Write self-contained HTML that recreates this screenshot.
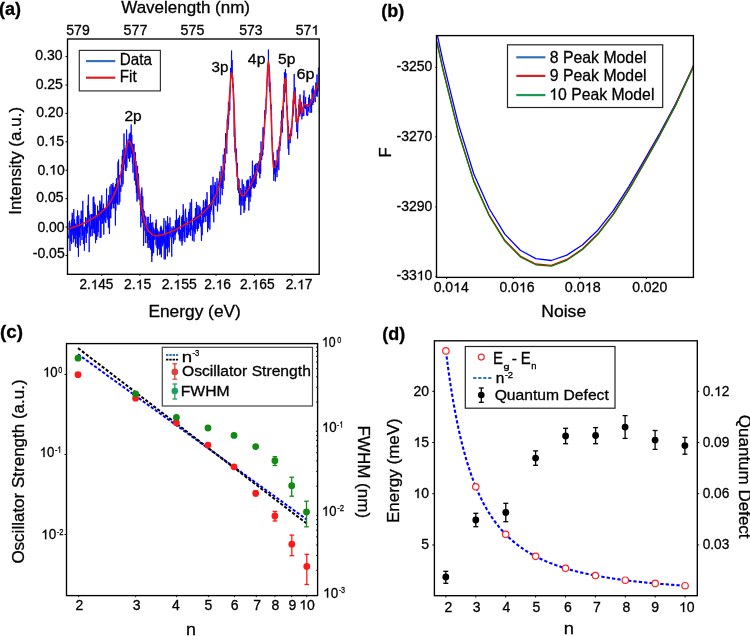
<!DOCTYPE html>
<html><head><meta charset="utf-8"><style>
html,body{margin:0;padding:0;background:#fff;width:750px;height:636px;overflow:hidden}
svg{display:block;will-change:transform}
text{font-family:"Liberation Sans",sans-serif;stroke:#000;stroke-width:0.3px}
</style></head><body>
<svg width="750" height="636" viewBox="0 0 750 636">
<rect width="750" height="636" fill="#fff"/>
<text x="-0.9" y="14.9" font-size="18" font-weight="bold" fill="#000">(a)</text>
<text x="121.23" y="12.6" font-size="17" fill="#000">Wavelength (nm)</text>
<text x="66.34" y="34.8" font-size="14" fill="#000">579</text>
<text x="123.64" y="34.8" font-size="14" fill="#000" textLength="23.86" lengthAdjust="spacingAndGlyphs">577</text>
<text x="180.64" y="34.8" font-size="14" fill="#000" textLength="23.75" lengthAdjust="spacingAndGlyphs">575</text>
<text x="239.14" y="34.8" font-size="14" fill="#000">573</text>
<text x="295.84" y="34.8" font-size="14" fill="#000">57 </text>
<path d="M763 0L583 0L583 1100C540 1060 483 1020 413 980C343 940 280 912 223 892L223 1058C324 1103 412 1159 488 1224C564 1289 617 1350 649 1409L763 1409Z" transform="translate(311.41 34.8) scale(0.006836 -0.006836)" fill="#000" stroke="#000" stroke-width="43.886"/>
<text x="62.55" y="59.6" font-size="14" text-anchor="end" fill="#000">0.30</text>
<line x1="65.5" y1="56.6" x2="67.5" y2="56.6" stroke="#000" stroke-width="1"/>
<text x="62.89" y="88.6" font-size="14" text-anchor="end" fill="#000">0.25</text>
<line x1="65.5" y1="85.01" x2="67.5" y2="85.01" stroke="#000" stroke-width="1"/>
<text x="63.45" y="117.2" font-size="14" text-anchor="end" fill="#000">0.20</text>
<line x1="65.5" y1="113.42" x2="67.5" y2="113.42" stroke="#000" stroke-width="1"/>
<text x="64.09" y="145.5" font-size="14" text-anchor="end" fill="#000">0. 5</text>
<path d="M763 0L583 0L583 1100C540 1060 483 1020 413 980C343 940 280 912 223 892L223 1058C324 1103 412 1159 488 1224C564 1289 617 1350 649 1409L763 1409Z" transform="translate(48.52 145.5) scale(0.006836 -0.006836)" fill="#000" stroke="#000" stroke-width="43.886"/>
<line x1="65.5" y1="141.83" x2="67.5" y2="141.83" stroke="#000" stroke-width="1"/>
<text x="64.75" y="174.6" font-size="14" text-anchor="end" fill="#000">0. 0</text>
<path d="M763 0L583 0L583 1100C540 1060 483 1020 413 980C343 940 280 912 223 892L223 1058C324 1103 412 1159 488 1224C564 1289 617 1350 649 1409L763 1409Z" transform="translate(49.17 174.6) scale(0.006836 -0.006836)" fill="#000" stroke="#000" stroke-width="43.886"/>
<line x1="65.5" y1="170.24" x2="67.5" y2="170.24" stroke="#000" stroke-width="1"/>
<text x="63.49" y="202.3" font-size="14" text-anchor="end" fill="#000">0.05</text>
<line x1="65.5" y1="198.65" x2="67.5" y2="198.65" stroke="#000" stroke-width="1"/>
<text x="64.65" y="231.5" font-size="14" text-anchor="end" fill="#000">0.00</text>
<line x1="65.5" y1="227.06" x2="67.5" y2="227.06" stroke="#000" stroke-width="1"/>
<text x="64.69" y="257.9" font-size="14" text-anchor="end" fill="#000">-0.05</text>
<line x1="65.5" y1="255.47" x2="67.5" y2="255.47" stroke="#000" stroke-width="1"/>
<text transform="translate(21 213.3) rotate(-90)" x="-1.37" y="0" font-size="17" fill="#000">Intensity (a.u.)</text>
<text x="79.4" y="289.3" font-size="14" fill="#000" textLength="33.99" lengthAdjust="spacingAndGlyphs">2. 45</text>
<path d="M763 0L583 0L583 1100C540 1060 483 1020 413 980C343 940 280 912 223 892L223 1058C324 1103 412 1159 488 1224C564 1289 617 1350 649 1409L763 1409Z" transform="translate(90.72 289.3) scale(0.006633 -0.006836)" fill="#000" stroke="#000" stroke-width="43.886"/>
<text x="124" y="289.3" font-size="14" fill="#000">2. 5</text>
<path d="M763 0L583 0L583 1100C540 1060 483 1020 413 980C343 940 280 912 223 892L223 1058C324 1103 412 1159 488 1224C564 1289 617 1350 649 1409L763 1409Z" transform="translate(135.67 289.3) scale(0.006836 -0.006836)" fill="#000" stroke="#000" stroke-width="43.886"/>
<text x="161.7" y="289.3" font-size="14" fill="#000">2. 55</text>
<path d="M763 0L583 0L583 1100C540 1060 483 1020 413 980C343 940 280 912 223 892L223 1058C324 1103 412 1159 488 1224C564 1289 617 1350 649 1409L763 1409Z" transform="translate(173.37 289.3) scale(0.006836 -0.006836)" fill="#000" stroke="#000" stroke-width="43.886"/>
<text x="204.2" y="289.3" font-size="14" fill="#000" textLength="26.82" lengthAdjust="spacingAndGlyphs">2. 6</text>
<path d="M763 0L583 0L583 1100C540 1060 483 1020 413 980C343 940 280 912 223 892L223 1058C324 1103 412 1159 488 1224C564 1289 617 1350 649 1409L763 1409Z" transform="translate(215.69 289.3) scale(0.006728 -0.006836)" fill="#000" stroke="#000" stroke-width="43.886"/>
<text x="240.1" y="289.3" font-size="14" fill="#000" textLength="34.49" lengthAdjust="spacingAndGlyphs">2. 65</text>
<path d="M763 0L583 0L583 1100C540 1060 483 1020 413 980C343 940 280 912 223 892L223 1058C324 1103 412 1159 488 1224C564 1289 617 1350 649 1409L763 1409Z" transform="translate(251.59 289.3) scale(0.006730 -0.006836)" fill="#000" stroke="#000" stroke-width="43.886"/>
<text x="285.7" y="289.3" font-size="14" fill="#000" textLength="26.81" lengthAdjust="spacingAndGlyphs">2. 7</text>
<path d="M763 0L583 0L583 1100C540 1060 483 1020 413 980C343 940 280 912 223 892L223 1058C324 1103 412 1159 488 1224C564 1289 617 1350 649 1409L763 1409Z" transform="translate(297.18 289.3) scale(0.006726 -0.006836)" fill="#000" stroke="#000" stroke-width="43.886"/>
<text x="148.41" y="316.9" font-size="17" fill="#000" textLength="92.45" lengthAdjust="spacingAndGlyphs">Energy (eV)</text>
<line x1="101.8" y1="274.3" x2="101.8" y2="276" stroke="#000" stroke-width="0.9"/>
<line x1="139.9" y1="274.3" x2="139.9" y2="276" stroke="#000" stroke-width="0.9"/>
<line x1="178" y1="274.3" x2="178" y2="276" stroke="#000" stroke-width="0.9"/>
<line x1="216" y1="274.3" x2="216" y2="276" stroke="#000" stroke-width="0.9"/>
<line x1="254.4" y1="274.3" x2="254.4" y2="276" stroke="#000" stroke-width="0.9"/>
<line x1="292.2" y1="274.3" x2="292.2" y2="276" stroke="#000" stroke-width="0.9"/>
<svg x="68" y="39" width="251" height="235" viewBox="68 39 251 235" overflow="hidden">
<polyline points="68.6,234.55 68.8,238.41 69,230.18 69.2,222.8 69.4,228.36 69.6,220.84 69.8,234.61 70,250.96 70.2,227.6 70.4,226.26 70.6,241.36 70.8,239.32 71,235.46 71.2,222.82 71.4,237.22 71.6,243.88 71.8,219.64 72,231.61 72.2,212.76 72.4,220.75 72.6,214.83 72.8,235.21 73,222.7 73.2,242.44 73.4,239.99 73.6,234.76 73.8,209.11 74,231.71 74.2,238.48 74.4,239.09 74.6,219.05 74.8,231.2 75,224.19 75.2,225.41 75.4,246.72 75.6,223.75 75.8,231.89 76,243.64 76.2,225.72 76.4,232.23 76.6,235.18 76.8,233.5 77,216.28 77.2,232.04 77.4,248 77.6,210.3 77.8,240.37 78,232.43 78.2,222.05 78.4,256.88 78.6,239.83 78.8,215.36 79,231.59 79.2,237.27 79.4,226.72 79.6,235.59 79.8,226.47 80,235.25 80.2,245.52 80.4,218.81 80.6,227.71 80.8,218.95 81,225.33 81.2,210.66 81.4,218.24 81.6,224.25 81.8,236.47 82,240.09 82.2,210.68 82.4,216.14 82.6,235.6 82.8,200.9 83,220.57 83.2,226.86 83.4,244.13 83.6,239.89 83.8,228.22 84,227.27 84.2,228.72 84.4,250.78 84.6,226.61 84.8,229.58 85,237.49 85.2,230.53 85.4,228.76 85.6,216.98 85.8,231.09 86,225.29 86.2,243 86.4,234.71 86.6,224.17 86.8,232 87,217.95 87.2,233.47 87.4,220 87.6,227.98 87.8,205.35 88,226.47 88.2,200.01 88.4,194.64 88.6,217.88 88.8,211.19 89,224.32 89.2,252.16 89.4,215.26 89.6,218.26 89.8,227.48 90,233.31 90.2,225.79 90.4,226.42 90.6,236.65 90.8,234.54 91,213.97 91.2,226.03 91.4,228.92 91.6,214.51 91.8,229.06 92,214.47 92.2,236.05 92.4,225.4 92.6,222.64 92.8,214.14 93,219.77 93.2,197.09 93.4,207.85 93.6,228.62 93.8,196.55 94,233.08 94.2,202.37 94.4,233.08 94.6,212.69 94.8,233.5 95,226.25 95.2,204.46 95.4,237.25 95.6,243.18 95.8,224.9 96,223.47 96.2,222.9 96.4,215.1 96.6,240.05 96.8,221.86 97,226.71 97.2,215.06 97.4,215.88 97.6,205.6 97.8,236.6 98,218.54 98.2,232.08 98.4,221.42 98.6,210.67 98.8,215.91 99,212.63 99.2,220.35 99.4,214.87 99.6,214.61 99.8,200.63 100,207.79 100.2,238.03 100.4,209.05 100.6,204.62 100.8,223.46 101,237.68 101.2,202.39 101.4,217.77 101.6,211.81 101.8,195.24 102,224.01 102.2,215.44 102.4,217.54 102.6,208.5 102.8,223.2 103,210.38 103.2,215.34 103.4,204.24 103.6,203.67 103.8,234.61 104,210.34 104.2,219.49 104.4,215.5 104.6,208.98 104.8,208.45 105,221.89 105.2,209.37 105.4,207.89 105.6,208.86 105.8,222.97 106,214.94 106.2,211.41 106.4,198.05 106.6,188.45 106.8,217.54 107,217.52 107.2,204.19 107.4,214.15 107.6,216.57 107.8,218.03 108,219.95 108.2,200.85 108.4,227.65 108.6,195.17 108.8,219.52 109,216.04 109.2,221.54 109.4,234.04 109.6,227.26 109.8,192.97 110,186.44 110.2,217.51 110.4,195.04 110.6,208.1 110.8,218.18 111,187.92 111.2,184.12 111.4,209.11 111.6,203.57 111.8,201.93 112,204.18 112.2,193.67 112.4,185.02 112.6,202.28 112.8,192.12 113,182.9 113.2,208.36 113.4,201.04 113.6,207.45 113.8,188.09 114,191.22 114.2,186.81 114.4,189.47 114.6,204.08 114.8,193.36 115,208.35 115.2,206.3 115.4,225.5 115.6,183.88 115.8,210.75 116,197.4 116.2,197.56 116.4,178.23 116.6,189.09 116.8,203 117,192.22 117.2,191.75 117.4,187.85 117.6,204.56 117.8,188.91 118,161.64 118.2,179.68 118.4,163.43 118.6,159.54 118.8,182.88 119,204.76 119.2,189.22 119.4,174.93 119.6,177.59 119.8,202.12 120,190.75 120.2,189.68 120.4,186.64 120.6,185.4 120.8,191.78 121,187.22 121.2,181.05 121.4,165.2 121.6,182.27 121.8,164.11 122,186.74 122.2,156.06 122.4,167.94 122.6,167.38 122.8,149.75 123,184.31 123.2,181.12 123.4,155.38 123.6,170.02 123.8,166.85 124,133.47 124.2,164.41 124.4,160.34 124.6,161.02 124.8,148.04 125,154.79 125.2,154.57 125.4,170.84 125.6,159.8 125.8,154.33 126,171.1 126.2,145.09 126.4,148.29 126.6,129.57 126.8,167.62 127,159.36 127.2,158.39 127.4,154.88 127.6,145.68 127.8,145.51 128,140.14 128.2,139.28 128.4,142.43 128.6,158.61 128.8,146.98 129,140.22 129.2,134 129.4,133.55 129.6,161.72 129.8,147.84 130,143.86 130.2,140.51 130.4,132.33 130.6,146.29 130.8,157.49 131,144.21 131.2,124.5 131.4,148.22 131.6,154.03 131.8,134.81 132,149.66 132.2,143.56 132.4,163.53 132.6,143.89 132.8,160.83 133,172.6 133.2,149.01 133.4,144.63 133.6,155.22 133.8,154.2 134,143.84 134.2,162.67 134.4,180.63 134.6,155.2 134.8,159.74 135,152.53 135.2,169.03 135.4,152.39 135.6,155.9 135.8,185.24 136,161.13 136.2,186.99 136.4,193.05 136.6,179.62 136.8,184.52 137,201.56 137.2,176.53 137.4,172.76 137.6,165.76 137.8,182 138,199.47 138.2,195.7 138.4,173.68 138.6,176.16 138.8,183.25 139,193.96 139.2,189.36 139.4,198.24 139.6,200.08 139.8,193.79 140,199.08 140.2,205.26 140.4,202.76 140.6,210.88 140.8,227.37 141,214.48 141.2,209.06 141.4,190.73 141.6,215.59 141.8,187.58 142,194.98 142.2,223.06 142.4,221.1 142.6,212.23 142.8,196.34 143,212.55 143.2,209.14 143.4,226.8 143.6,245.92 143.8,224.33 144,214.86 144.2,210.84 144.4,225.32 144.6,225.38 144.8,215.26 145,230.85 145.2,216.34 145.4,242.38 145.6,241.37 145.8,242.93 146,224.87 146.2,236.03 146.4,228.92 146.6,227.69 146.8,228.51 147,216.91 147.2,217.12 147.4,243.03 147.6,232.62 147.8,239.01 148,247.89 148.2,216.76 148.4,227.51 148.6,239.11 148.8,240.13 149,230.7 149.2,247.92 149.4,238.45 149.6,223.12 149.8,225.96 150,245.74 150.2,241.21 150.4,214.16 150.6,249.47 150.8,241.2 151,249.59 151.2,231.01 151.4,231.7 151.6,222.73 151.8,262.01 152,236.89 152.2,255.84 152.4,232.38 152.6,242.45 152.8,222.32 153,238.09 153.2,252.07 153.4,227.48 153.6,253.14 153.8,244.6 154,228.72 154.2,235.17 154.4,236.59 154.6,239.73 154.8,235.12 155,230.18 155.2,236.6 155.4,227.45 155.6,223.1 155.8,235.87 156,245.3 156.2,219.55 156.4,238.37 156.6,232.5 156.8,228.24 157,247.95 157.2,232.77 157.4,255.48 157.6,229.52 157.8,243.47 158,237.52 158.2,231.42 158.4,246.79 158.6,239.67 158.8,249.26 159,243.38 159.2,231.57 159.4,242.87 159.6,244.51 159.8,254.82 160,235.91 160.2,246.71 160.4,226.87 160.6,253.63 160.8,233.26 161,225.76 161.2,244.63 161.4,257.3 161.6,227.73 161.8,232.4 162,234.5 162.2,230.17 162.4,246.32 162.6,231.8 162.8,232.5 163,244.66 163.2,230.59 163.4,242.82 163.6,228.09 163.8,225.01 164,218.17 164.2,259.35 164.4,235.33 164.6,240.5 164.8,237.2 165,242.2 165.2,240.28 165.4,259.33 165.6,227.52 165.8,220.77 166,228.89 166.2,226.27 166.4,248.67 166.6,247.83 166.8,230.01 167,225.31 167.2,237.52 167.4,256.34 167.6,216.09 167.8,246.35 168,225.59 168.2,247.61 168.4,226.2 168.6,234.33 168.8,223.23 169,228.31 169.2,252.43 169.4,247.42 169.6,236.61 169.8,230.69 170,217.44 170.2,233.13 170.4,236.96 170.6,236.99 170.8,236.69 171,226.88 171.2,238.82 171.4,237.66 171.6,252.99 171.8,256.7 172,235.69 172.2,229.22 172.4,237.39 172.6,231.15 172.8,228.35 173,236.44 173.2,226.02 173.4,243.81 173.6,237.5 173.8,241.73 174,235.74 174.2,230.07 174.4,227.62 174.6,234.49 174.8,232.15 175,239.84 175.2,236.72 175.4,220.59 175.6,234.47 175.8,220.3 176,227.91 176.2,230.79 176.4,209.47 176.6,232.36 176.8,232.4 177,228.66 177.2,225.26 177.4,225.84 177.6,219.68 177.8,228.01 178,224.63 178.2,231.35 178.4,217.8 178.6,234.5 178.8,234.1 179,231.34 179.2,227.39 179.4,240.65 179.6,215.32 179.8,238.87 180,238.25 180.2,238.29 180.4,238.91 180.6,229.52 180.8,232.56 181,241.57 181.2,239.03 181.4,235.52 181.6,216.77 181.8,239.69 182,245.43 182.2,243.39 182.4,234.26 182.6,215.1 182.8,241.05 183,228.72 183.2,204.17 183.4,231.91 183.6,210.23 183.8,211.07 184,218.7 184.2,237.8 184.4,221.23 184.6,227.45 184.8,242.13 185,239.62 185.2,221.28 185.4,219.83 185.6,208.78 185.8,214.99 186,227.35 186.2,229.32 186.4,228.24 186.6,237.69 186.8,217.62 187,225.65 187.2,234.93 187.4,232.93 187.6,237.95 187.8,231.94 188,225.29 188.2,233.04 188.4,218.61 188.6,211.96 188.8,235.1 189,227.96 189.2,231.85 189.4,208.85 189.6,223.98 189.8,221.53 190,218.04 190.2,202.46 190.4,221.84 190.6,235.97 190.8,229.66 191,217.29 191.2,222.48 191.4,229.79 191.6,198.97 191.8,222.1 192,229.66 192.2,229.56 192.4,240.61 192.6,234.12 192.8,226.45 193,225.36 193.2,231.03 193.4,217.84 193.6,220.38 193.8,230.22 194,241.55 194.2,218.15 194.4,218.98 194.6,220.5 194.8,232.05 195,216.58 195.2,233.85 195.4,208.17 195.6,216.85 195.8,215.62 196,225.84 196.2,228.98 196.4,201.93 196.6,209.16 196.8,222.13 197,212 197.2,205.13 197.4,231.32 197.6,224.3 197.8,223.6 198,214.48 198.2,228.94 198.4,214.51 198.6,227.57 198.8,205.46 199,206.37 199.2,216.11 199.4,208.37 199.6,223.51 199.8,219.61 200,206.81 200.2,218.03 200.4,213.86 200.6,226.44 200.8,210.15 201,212.16 201.2,230.3 201.4,241.01 201.6,240.08 201.8,220.08 202,221.94 202.2,235.19 202.4,218.26 202.6,208.36 202.8,219.64 203,223.14 203.2,209.35 203.4,200.17 203.6,201.97 203.8,222.16 204,207.01 204.2,212.15 204.4,215.35 204.6,217.16 204.8,207.78 205,215.34 205.2,201.34 205.4,206.72 205.6,199.22 205.8,222.02 206,208.64 206.2,200.35 206.4,204.61 206.6,205.79 206.8,215.69 207,192.14 207.2,198.09 207.4,204.59 207.6,232.13 207.8,217.97 208,206.99 208.2,215.11 208.4,228.22 208.6,205.67 208.8,205.09 209,222.13 209.2,214.31 209.4,215.47 209.6,203.96 209.8,229.6 210,226.01 210.2,213.15 210.4,213.97 210.6,185.34 210.8,211.7 211,203.99 211.2,208.45 211.4,209.94 211.6,199.51 211.8,185.28 212,205.32 212.2,194.53 212.4,199.55 212.6,195.75 212.8,197.28 213,176.89 213.2,214.99 213.4,205.68 213.6,213.43 213.8,222.3 214,202.6 214.2,184.96 214.4,196.01 214.6,192.53 214.8,198.94 215,204.7 215.2,182.02 215.4,205.28 215.6,186.56 215.8,206.07 216,201.85 216.2,197.15 216.4,197.54 216.6,192.96 216.8,190.83 217,178.18 217.2,193.15 217.4,211.37 217.6,211.39 217.8,203.92 218,198.01 218.2,183.78 218.4,203.35 218.6,186.6 218.8,183.48 219,180.96 219.2,184.18 219.4,178.53 219.6,182.03 219.8,171.52 220,178.69 220.2,204.27 220.4,179.95 220.6,178.7 220.8,186.15 221,185.64 221.2,166.03 221.4,175.1 221.6,188.08 221.8,182.33 222,180.68 222.2,195.21 222.4,171.81 222.6,178.27 222.8,171.54 223,189 223.2,154.59 223.4,166.51 223.6,165.31 223.8,175.07 224,174.32 224.2,180.69 224.4,148.45 224.6,169.89 224.8,157.62 225,151.46 225.2,163.34 225.4,147.02 225.6,133.04 225.8,147.77 226,134.36 226.2,139.18 226.4,146.35 226.6,143.11 226.8,153.72 227,134 227.2,119.35 227.4,125.42 227.6,121.03 227.8,114.99 228,129.68 228.2,115.78 228.4,101.86 228.6,124.55 228.8,113.53 229,114.69 229.2,108.88 229.4,110.95 229.6,102.58 229.8,110.36 230,98.23 230.2,93.54 230.4,89.25 230.6,67.98 230.8,78.11 231,74.08 231.2,76.96 231.4,59.87 231.6,50.5 231.8,73.37 232,61.69 232.2,60.1 232.4,74.74 232.6,79.17 232.8,77.28 233,88.08 233.2,84.11 233.4,100.15 233.6,93.92 233.8,103.83 234,118.42 234.2,136.87 234.4,112.26 234.6,126.28 234.8,129.55 235,152.56 235.2,138.12 235.4,150.46 235.6,156.39 235.8,149.64 236,153 236.2,161.06 236.4,148.64 236.6,156.53 236.8,169.35 237,176.81 237.2,176.02 237.4,162.88 237.6,176.55 237.8,190.25 238,188.55 238.2,184.79 238.4,178.13 238.6,193.03 238.8,184.62 239,179.28 239.2,184.34 239.4,205.31 239.6,194.71 239.8,204.12 240,188.92 240.2,201.48 240.4,188.16 240.6,191.97 240.8,215.06 241,200.84 241.2,189.98 241.4,193.37 241.6,197.91 241.8,205.39 242,190.8 242.2,179.48 242.4,192.79 242.6,193.79 242.8,195.22 243,205.66 243.2,196.56 243.4,201.56 243.6,184.21 243.8,201.61 244,212.87 244.2,200.9 244.4,197.33 244.6,196.58 244.8,210.18 245,186.46 245.2,192.17 245.4,196.72 245.6,200.84 245.8,190.3 246,197.18 246.2,190.23 246.4,191.85 246.6,189.24 246.8,180.45 247,189.33 247.2,197.33 247.4,180.76 247.6,186.69 247.8,194.82 248,179.29 248.2,191.25 248.4,180.57 248.6,200.03 248.8,210.53 249,207.57 249.2,188.34 249.4,196.65 249.6,190.69 249.8,189.48 250,201.73 250.2,175.97 250.4,195.61 250.6,185.97 250.8,197.2 251,186.11 251.2,178.46 251.4,185.81 251.6,188.67 251.8,181.19 252,185.4 252.2,174.96 252.4,160.63 252.6,186.44 252.8,184.31 253,180.42 253.2,179.75 253.4,188.06 253.6,175.82 253.8,174.56 254,177.85 254.2,188.56 254.4,165.32 254.6,186.64 254.8,171.46 255,167.33 255.2,187.12 255.4,174.51 255.6,163.76 255.8,172.58 256,182.15 256.2,184.26 256.4,169.27 256.6,174.7 256.8,175.57 257,162.95 257.2,171.16 257.4,167.47 257.6,163.76 257.8,164.1 258,167.64 258.2,167 258.4,161.88 258.6,161.27 258.8,172.56 259,164.24 259.2,169 259.4,172.19 259.6,165.17 259.8,178.23 260,152.85 260.2,166.04 260.4,156.93 260.6,173.91 260.8,170.8 261,141.41 261.2,148.13 261.4,159.16 261.6,160.1 261.8,159.69 262,152.33 262.2,156.13 262.4,154.94 262.6,148.46 262.8,155.06 263,127.38 263.2,149.56 263.4,134.23 263.6,147.64 263.8,135.23 264,127.49 264.2,134.35 264.4,122.09 264.6,118.2 264.8,110.15 265,118.33 265.2,118.01 265.4,118.6 265.6,106.98 265.8,114.21 266,103.53 266.2,98.65 266.4,100.19 266.6,100.1 266.8,85.11 267,82.06 267.2,78.3 267.4,76.62 267.6,65.64 267.8,77.11 268,64.73 268.2,69.56 268.4,49.5 268.6,68.92 268.8,69.04 269,64.93 269.2,86.71 269.4,77.76 269.6,91.64 269.8,89.96 270,82.36 270.2,89.7 270.4,100.76 270.6,103.32 270.8,107.41 271,109.27 271.2,104.55 271.4,121.73 271.6,113.28 271.8,139.29 272,137.5 272.2,142.88 272.4,151.52 272.6,159.48 272.8,151.64 273,152.3 273.2,158.8 273.4,154.21 273.6,162.31 273.8,180.91 274,161.81 274.2,174.25 274.4,160.26 274.6,173.4 274.8,168 275,169.2 275.2,173.44 275.4,181.44 275.6,170.04 275.8,168.29 276,160.4 276.2,171.34 276.4,164.37 276.6,171.87 276.8,165.54 277,177.24 277.2,149.77 277.4,160.33 277.6,167.38 277.8,158.34 278,154.01 278.2,156.47 278.4,146.91 278.6,155.93 278.8,170.21 279,160.45 279.2,142.57 279.4,141.69 279.6,143.52 279.8,150.97 280,136.73 280.2,136.11 280.4,145.63 280.6,143.22 280.8,132.73 281,125.64 281.2,120.66 281.4,124.13 281.6,110.42 281.8,129.75 282,117.35 282.2,123.69 282.4,132.5 282.6,125.09 282.8,106.68 283,118.32 283.2,117.31 283.4,100.36 283.6,94.97 283.8,97.03 284,84.15 284.2,102.15 284.4,72.24 284.6,79.41 284.8,83.13 285,81.49 285.2,82.27 285.4,69 285.6,80.86 285.8,92.65 286,73.1 286.2,91.56 286.4,90.84 286.6,102.89 286.8,109.51 287,105.71 287.2,111.67 287.4,125.14 287.6,125 287.8,120.36 288,143.3 288.2,148.94 288.4,126.05 288.6,140.38 288.8,154.92 289,144.22 289.2,139.24 289.4,136.64 289.6,133.72 289.8,135.98 290,134.04 290.2,143.17 290.4,135.61 290.6,135.11 290.8,130.36 291,136.07 291.2,127.67 291.4,128.94 291.6,135.47 291.8,129.21 292,127.87 292.2,125.1 292.4,120.94 292.6,117.02 292.8,112.53 293,116.22 293.2,99.87 293.4,112.84 293.6,100.32 293.8,91.1 294,90.84 294.2,74 294.4,94.72 294.6,89.52 294.8,104.16 295,93.81 295.2,87.38 295.4,101.01 295.6,96.06 295.8,112.25 296,121.97 296.2,121 296.4,108.6 296.6,113.51 296.8,132.06 297,122.85 297.2,121.45 297.4,129.76 297.6,138.63 297.8,131.72 298,122.01 298.2,121.75 298.4,121.49 298.6,110.04 298.8,104.61 299,109.17 299.2,99.18 299.4,102.7 299.6,102.48 299.8,116.52 300,94.47 300.2,100.63 300.4,101.63 300.6,108.26 300.8,114.1 301,106.5 301.2,106.43 301.4,101.93 301.6,108.43 301.8,119.31 302,116.69 302.2,109.19 302.4,113.02 302.6,114.61 302.8,116.31 303,107.11 303.2,108.54 303.4,95.59 303.6,97.76 303.8,115.98 304,90.4 304.2,102.78 304.4,107.75 304.6,104.05 304.8,102.22 305,107.68 305.2,108.77 305.4,108.63 305.6,96.85 305.8,108.72 306,104.51 306.2,106.7 306.4,111.97 306.6,114.13 306.8,115.44 307,104.79 307.2,114.07 307.4,115.74 307.6,114 307.8,115.08 308,104.67 308.2,103.94 308.4,111.39 308.6,97.47 308.8,107.58 309,102.41 309.2,103.39 309.4,94.72 309.6,101.31 309.8,106.38 310,112.83 310.2,112.85 310.4,105.06 310.6,104.65 310.8,99.21 311,106.34 311.2,101.51 311.4,106.09 311.6,112.7 311.8,100.05 312,89.49 312.2,92.76 312.4,87.92 312.6,88.67 312.8,105.04 313,97.49 313.2,85.61 313.4,99.49 313.6,102.83 313.8,91.64 314,89.64 314.2,91.28 314.4,95.08 314.6,97.15 314.8,101.17 315,101.44 315.2,101.39 315.4,102.15 315.6,97.64 315.8,82.52 316,91.78 316.2,93.91 316.4,87.76 316.6,95.78 316.8,86.79 317,74.5 317.2,96.81 317.4,90.79 317.6,87.38 317.8,91.54 318,91.46 318.2,85.71 318.4,67.56" fill="none" stroke="#0000ff" stroke-width="0.9" stroke-linejoin="round"/>
<polyline points="68,228.9 68.5,228.77 69,228.63 69.5,228.49 70,228.35 70.5,228.2 71,228.05 71.5,227.9 72,227.74 72.5,227.58 73,227.41 73.5,227.25 74,227.08 74.5,226.9 75,226.73 75.5,226.55 76,226.37 76.5,226.18 77,226 77.5,225.81 78,225.61 78.5,225.42 79,225.22 79.5,225.02 80,224.82 80.5,224.61 81,224.4 81.5,224.19 82,223.97 82.5,223.75 83,223.52 83.5,223.3 84,223.06 84.5,222.83 85,222.59 85.5,222.35 86,222.1 86.5,221.85 87,221.59 87.5,221.33 88,221.07 88.5,220.8 89,220.53 89.5,220.26 90,219.97 90.5,219.69 91,219.4 91.5,219.1 92,218.8 92.5,218.5 93,218.19 93.5,217.88 94,217.57 94.5,217.25 95,216.92 95.5,216.6 96,216.26 96.5,215.92 97,215.58 97.5,215.22 98,214.86 98.5,214.5 99,214.12 99.5,213.73 100,213.34 100.5,212.94 101,212.52 101.5,212.1 102,211.66 102.5,211.22 103,210.76 103.5,210.29 104,209.8 104.5,209.31 105,208.8 105.5,208.27 106,207.73 106.5,207.17 107,206.59 107.5,205.97 108,205.32 108.5,204.63 109,203.92 109.5,203.17 110,202.38 110.5,201.57 111,200.73 111.5,199.85 112,198.94 112.5,198 113,197.02 113.5,196.02 114,194.98 114.5,193.92 115,192.8 115.5,191.6 116,190.31 116.5,188.95 117,187.51 117.5,185.99 118,184.41 118.5,182.76 119,181.05 119.5,179.29 120,177.47 120.5,175.52 121,173.32 121.5,170.93 122,168.43 122.5,165.89 123,163.38 123.5,160.96 124,158.73 124.5,156.64 125,154.4 125.5,152.04 126,149.69 126.5,147.44 127,145.4 127.5,143.66 128,142.33 128.5,141.51 129,141.31 129.5,141.56 130,142.13 130.5,143 131,144.12 131.5,145.45 132,146.97 132.5,148.62 133,150.38 133.5,152.21 134,154.09 134.5,156.49 135,159.53 135.5,163.06 136,166.93 136.5,170.97 137,175.03 137.5,178.96 138,182.6 138.5,186.14 139,189.8 139.5,193.5 140,197.17 140.5,200.71 141,204.03 141.5,207.07 142,209.72 142.5,212.07 143,214.37 143.5,216.61 144,218.77 144.5,220.82 145,222.73 145.5,224.48 146,226.05 146.5,227.4 147,228.51 147.5,229.36 148,230.02 148.5,230.64 149,231.24 149.5,231.81 150,232.36 150.5,232.87 151,233.35 151.5,233.8 152,234.2 152.5,234.57 153,234.89 153.5,235.17 154,235.4 154.5,235.58 155,235.71 155.5,235.78 156,235.8 156.5,235.79 157,235.76 157.5,235.72 158,235.67 158.5,235.6 159,235.52 159.5,235.43 160,235.33 160.5,235.22 161,235.1 161.5,234.97 162,234.83 162.5,234.68 163,234.53 163.5,234.37 164,234.21 164.5,234.04 165,233.87 165.5,233.69 166,233.52 166.5,233.34 167,233.16 167.5,232.98 168,232.8 168.5,232.62 169,232.44 169.5,232.27 170,232.1 170.5,231.91 171,231.72 171.5,231.52 172,231.31 172.5,231.09 173,230.86 173.5,230.63 174,230.39 174.5,230.15 175,229.9 175.5,229.64 176,229.38 176.5,229.11 177,228.85 177.5,228.58 178,228.3 178.5,228.03 179,227.75 179.5,227.48 180,227.2 180.5,226.92 181,226.65 181.5,226.37 182,226.1 182.5,225.83 183,225.56 183.5,225.3 184,225.04 184.5,224.78 185,224.52 185.5,224.26 186,224.01 186.5,223.75 187,223.49 187.5,223.23 188,222.98 188.5,222.71 189,222.45 189.5,222.19 190,221.92 190.5,221.65 191,221.37 191.5,221.09 192,220.81 192.5,220.52 193,220.23 193.5,219.93 194,219.63 194.5,219.32 195,219 195.5,218.68 196,218.35 196.5,218.01 197,217.66 197.5,217.31 198,216.95 198.5,216.58 199,216.2 199.5,215.81 200,215.4 200.5,214.99 201,214.56 201.5,214.12 202,213.68 202.5,213.24 203,212.79 203.5,212.33 204,211.87 204.5,211.4 205,210.92 205.5,210.43 206,209.93 206.5,209.42 207,208.89 207.5,208.34 208,207.78 208.5,207.19 209,206.59 209.5,205.96 210,205.31 210.5,204.64 211,203.93 211.5,203.21 212,202.45 212.5,201.66 213,200.84 213.5,199.95 214,199.02 214.5,198.03 215,196.97 215.5,195.86 216,194.69 216.5,193.45 217,192.15 217.5,190.79 218,189.36 218.5,187.86 219,186.29 219.5,184.64 220,182.93 220.5,181.14 221,179.28 221.5,177.3 222,175.11 222.5,172.69 223,170.03 223.5,167.11 224,163.92 224.5,160.44 225,156.65 225.5,152.53 226,147.26 226.5,140.84 227,133.72 227.5,126.38 228,119.27 228.5,112.39 229,104.36 229.5,95.79 230,87.52 230.5,80.38 231,75.18 231.5,72.77 232,74.01 232.5,78.8 233,86.13 233.5,94.99 234,104.61 234.5,120.05 235,137.29 235.5,148.67 236,157.48 236.5,165.28 237,171.92 237.5,177.25 238,181.12 238.5,183.86 239,186.41 239.5,188.74 240,190.83 240.5,192.61 241,194.06 241.5,195.11 242,195.74 242.5,195.9 243,195.8 243.5,195.57 244,195.21 244.5,194.76 245,194.21 245.5,193.58 246,192.88 246.5,192.13 247,191.34 247.5,190.52 248,189.69 248.5,188.86 249,188.04 249.5,187.24 250,186.43 250.5,185.57 251,184.68 251.5,183.74 252,182.75 252.5,181.73 253,180.65 253.5,179.53 254,178.37 254.5,177.15 255,175.88 255.5,174.57 256,173.2 256.5,171.78 257,170.3 257.5,168.78 258,167.23 258.5,165.62 259,163.93 259.5,162.12 260,160.18 260.5,158.07 261,155.77 261.5,153.24 262,150.48 262.5,147.44 263,144.1 263.5,139.76 264,134 264.5,127.17 265,119.65 265.5,111.8 266,104 266.5,94.44 267,82.8 267.5,71.72 268,63.8 268.5,61.63 269,65.61 269.5,73.96 270,84.99 270.5,97.01 271,109.06 271.5,124.96 272,141.28 272.5,152.97 273,162.11 273.5,167.42 274,167.51 274.5,167.16 275,166.61 275.5,165.92 276,165.12 276.5,163.82 277,161.87 277.5,159.39 278,156.5 278.5,153.3 279,149.89 279.5,146.4 280,142.5 280.5,137.9 281,132.77 281.5,127.27 282,121.56 282.5,115.8 283,108.89 283.5,100.5 284,91.92 284.5,84.46 285,79.41 285.5,78.22 286,84.75 286.5,96.83 287,109.69 287.5,119.39 288,129.09 288.5,136.89 289,139.29 289.5,138.97 290,138.25 290.5,137.23 291,134.8 291.5,129.41 292,122.55 292.5,115.8 293,107.9 293.5,98.9 294,92.32 294.5,91.69 295,97.89 295.5,106.71 296,113.4 296.5,117.49 297,120.96 297.5,122.74 298,121.05 298.5,115.33 299,108.08 299.5,101.85 300,99.2 300.5,101.63 301,106.86 301.5,111.78 302,113.35 302.5,111.81 303,109.01 303.5,106.08 304,104.2 304.5,104.05 305,104.29 305.5,104.68 306,105.15 306.5,105.62 307,106.01 307.5,106.25 308,106.27 308.5,106.01 309,105.5 309.5,104.8 310,103.97 310.5,103.07 311,102.14 311.5,101.23 312,100.15 312.5,98.9 313,97.53 313.5,96.1 314,94.66 314.5,93.26 315,91.95 315.5,90.68 316,89.41 316.5,88.16 317,86.91 317.5,85.67 318,84.44 318.5,83.22 319,82" fill="none" stroke="#ee1111" stroke-width="1.5" stroke-linejoin="round"/>
</svg>
<rect x="67.5" y="39" width="251.7" height="235.3" fill="none" stroke="#000" stroke-width="1.35"/>
<rect x="79.3" y="50.4" width="81.1" height="40.5" fill="#fff" stroke="#333" stroke-width="1.2"/>
<line x1="86" y1="61.1" x2="115.3" y2="61.1" stroke="#3072bc" stroke-width="2.2"/>
<line x1="86" y1="77.7" x2="115.3" y2="77.7" stroke="#dc2020" stroke-width="2.2"/>
<text x="119.85" y="65.4" font-size="16.5" fill="#000" textLength="32.15" lengthAdjust="spacingAndGlyphs">Data</text>
<text x="119.85" y="82.3" font-size="16.5" fill="#000" textLength="16.77" lengthAdjust="spacingAndGlyphs">Fit</text>
<text x="124.44" y="121" font-size="15.2" fill="#000" textLength="17.3" lengthAdjust="spacingAndGlyphs">2p</text>
<text x="211.62" y="72.2" font-size="15.2" fill="#000">3p</text>
<text x="247.85" y="63.8" font-size="15.2" fill="#000" textLength="17.59" lengthAdjust="spacingAndGlyphs">4p</text>
<text x="278.09" y="64" font-size="15.2" fill="#000" textLength="17.35" lengthAdjust="spacingAndGlyphs">5p</text>
<text x="296.43" y="79.3" font-size="15.2" fill="#000" textLength="18.01" lengthAdjust="spacingAndGlyphs">6p</text>
<text x="381.3" y="16.9" font-size="18" font-weight="bold" fill="#000">(b)</text>
<text x="432.35" y="71.2" font-size="14" text-anchor="end" fill="#000">-3250</text>
<line x1="435.3" y1="67.3" x2="436.8" y2="67.3" stroke="#000" stroke-width="1"/>
<text x="432.35" y="140.7" font-size="14" text-anchor="end" fill="#000">-3270</text>
<line x1="435.3" y1="136.8" x2="436.8" y2="136.8" stroke="#000" stroke-width="1"/>
<text x="432.35" y="210.8" font-size="14" text-anchor="end" fill="#000">-3290</text>
<line x1="435.3" y1="206.9" x2="436.8" y2="206.9" stroke="#000" stroke-width="1"/>
<text x="432.35" y="280.3" font-size="14" text-anchor="end" fill="#000">-33 0</text>
<path d="M763 0L583 0L583 1100C540 1060 483 1020 413 980C343 940 280 912 223 892L223 1058C324 1103 412 1159 488 1224C564 1289 617 1350 649 1409L763 1409Z" transform="translate(416.77 280.3) scale(0.006836 -0.006836)" fill="#000" stroke="#000" stroke-width="43.886"/>
<line x1="435.3" y1="276.4" x2="436.8" y2="276.4" stroke="#000" stroke-width="1"/>
<text transform="translate(391 156.3) rotate(-90)" x="-1.19" y="0" font-size="17" fill="#000" textLength="10.18" lengthAdjust="spacingAndGlyphs">F</text>
<text x="433.65" y="292.2" font-size="14" fill="#000">0.0 4</text>
<path d="M763 0L583 0L583 1100C540 1060 483 1020 413 980C343 940 280 912 223 892L223 1058C324 1103 412 1159 488 1224C564 1289 617 1350 649 1409L763 1409Z" transform="translate(453.12 292.2) scale(0.006836 -0.006836)" fill="#000" stroke="#000" stroke-width="43.886"/>
<text x="499.45" y="292.2" font-size="14" fill="#000">0.0 6</text>
<path d="M763 0L583 0L583 1100C540 1060 483 1020 413 980C343 940 280 912 223 892L223 1058C324 1103 412 1159 488 1224C564 1289 617 1350 649 1409L763 1409Z" transform="translate(518.92 292.2) scale(0.006836 -0.006836)" fill="#000" stroke="#000" stroke-width="43.886"/>
<text x="564.75" y="292.2" font-size="14" fill="#000" textLength="35.96" lengthAdjust="spacingAndGlyphs">0.0 8</text>
<path d="M763 0L583 0L583 1100C540 1060 483 1020 413 980C343 940 280 912 223 892L223 1058C324 1103 412 1159 488 1224C564 1289 617 1350 649 1409L763 1409Z" transform="translate(584.73 292.2) scale(0.007016 -0.006836)" fill="#000" stroke="#000" stroke-width="43.886"/>
<text x="632.15" y="292.2" font-size="14" fill="#000">0.020</text>
<text x="541.31" y="316.7" font-size="17" fill="#000" textLength="44.85" lengthAdjust="spacingAndGlyphs">Noise</text>
<line x1="446.6" y1="277.4" x2="446.6" y2="279" stroke="#000" stroke-width="0.9"/>
<line x1="513.2" y1="277.4" x2="513.2" y2="279" stroke="#000" stroke-width="0.9"/>
<line x1="579.8" y1="277.4" x2="579.8" y2="279" stroke="#000" stroke-width="0.9"/>
<line x1="646.4" y1="277.4" x2="646.4" y2="279" stroke="#000" stroke-width="0.9"/>
<svg x="436.8" y="35.7" width="256.3" height="241.6" viewBox="436.8 35.7 256.3 241.6" overflow="hidden">
<polyline points="437,33.5 442.8,60.46 458.3,123.6 473.8,174.06 489.3,208.72 504.8,234.09 520.3,250.22 535.8,258.6 551.3,260.5 566.8,255.09 582.3,244.95 597.8,230.16 613.3,210.66 628.8,186.58 644.3,160.19 659.8,133.06 675.3,104.23 690.8,71.47 694,64.26" fill="none" stroke="#0000ff" stroke-width="1.3" stroke-linejoin="round"/>
<polyline points="437,41.7 442.8,68.53 458.3,131.16 473.8,180.83 489.3,215.17 504.8,240.29 520.3,256.05 535.8,263.98 551.3,265.29 566.8,259.47 582.3,248.99 597.8,233.82 613.3,213.88 628.8,189.33 644.3,162.42 659.8,134.76 675.3,105.36 690.8,72 694,64.66" fill="none" stroke="#ff0000" stroke-width="1.3" stroke-linejoin="round"/>
<polyline points="437,42.5 442.8,69.33 458.3,131.96 473.8,181.63 489.3,215.97 504.8,241.09 520.3,256.85 535.8,264.78 551.3,266.09 566.8,260.27 582.3,249.79 597.8,234.62 613.3,214.68 628.8,190.13 644.3,163.22 659.8,135.56 675.3,106.16 690.8,72.8 694,65.46" fill="none" stroke="#008000" stroke-width="1.3" stroke-linejoin="round"/>
</svg>
<rect x="436.5" y="35.6" width="256.9" height="241.8" fill="none" stroke="#000" stroke-width="1.35"/>
<rect x="507.5" y="44.8" width="155.2" height="62.7" fill="#fff" stroke="#222" stroke-width="1.2"/>
<line x1="516.3" y1="57.3" x2="545.4" y2="57.3" stroke="#3072bc" stroke-width="2.2"/>
<line x1="516.3" y1="75.9" x2="545.4" y2="75.9" stroke="#dc2020" stroke-width="2.2"/>
<line x1="516.3" y1="95.1" x2="545.4" y2="95.1" stroke="#1a9a50" stroke-width="2.2"/>
<text x="549.78" y="62.5" font-size="16.5" fill="#000" textLength="96.72" lengthAdjust="spacingAndGlyphs">8 Peak Model</text>
<text x="549.73" y="81.1" font-size="16.5" fill="#000" textLength="96.78" lengthAdjust="spacingAndGlyphs">9 Peak Model</text>
<text x="549.24" y="99.7" font-size="16.5" fill="#000" textLength="105.16" lengthAdjust="spacingAndGlyphs"> 0 Peak Model</text>
<path d="M763 0L583 0L583 1100C540 1060 483 1020 413 980C343 940 280 912 223 892L223 1058C324 1103 412 1159 488 1224C564 1289 617 1350 649 1409L763 1409Z" transform="translate(549.24 99.7) scale(0.007697 -0.008057)" fill="#000" stroke="#000" stroke-width="37.236"/>
<text x="-0.1" y="338.3" font-size="18" font-weight="bold" fill="#000" textLength="22.99" lengthAdjust="spacingAndGlyphs">(c)</text>
<text x="43.03" y="376.8" font-size="14" fill="#000" textLength="14.71" lengthAdjust="spacingAndGlyphs"> 0</text>
<path d="M763 0L583 0L583 1100C540 1060 483 1020 413 980C343 940 280 912 223 892L223 1058C324 1103 412 1159 488 1224C564 1289 617 1350 649 1409L763 1409Z" transform="translate(43.03 376.8) scale(0.006459 -0.006836)" fill="#000" stroke="#000" stroke-width="43.886"/>
<text x="58.33" y="372.5" font-size="9.5" fill="#000" textLength="4.04" lengthAdjust="spacingAndGlyphs">0</text>
<line x1="64.5" y1="374.4" x2="66.5" y2="374.4" stroke="#000" stroke-width="1"/>
<text x="39.63" y="457" font-size="14" fill="#000" textLength="14.71" lengthAdjust="spacingAndGlyphs"> 0</text>
<path d="M763 0L583 0L583 1100C540 1060 483 1020 413 980C343 940 280 912 223 892L223 1058C324 1103 412 1159 488 1224C564 1289 617 1350 649 1409L763 1409Z" transform="translate(39.63 457) scale(0.006459 -0.006836)" fill="#000" stroke="#000" stroke-width="43.886"/>
<text x="54.88" y="452.7" font-size="9.5" fill="#000" textLength="6.59" lengthAdjust="spacingAndGlyphs">- </text>
<path d="M763 0L583 0L583 1100C540 1060 483 1020 413 980C343 940 280 912 223 892L223 1058C324 1103 412 1159 488 1224C564 1289 617 1350 649 1409L763 1409Z" transform="translate(57.34 452.7) scale(0.003617 -0.004639)" fill="#000" stroke="#000" stroke-width="64.674"/>
<line x1="64.5" y1="454.5" x2="66.5" y2="454.5" stroke="#000" stroke-width="1"/>
<text x="41.23" y="539.2" font-size="14" fill="#000" textLength="15.01" lengthAdjust="spacingAndGlyphs"> 0</text>
<path d="M763 0L583 0L583 1100C540 1060 483 1020 413 980C343 940 280 912 223 892L223 1058C324 1103 412 1159 488 1224C564 1289 617 1350 649 1409L763 1409Z" transform="translate(41.23 539.2) scale(0.006591 -0.006836)" fill="#000" stroke="#000" stroke-width="43.886"/>
<text x="56.68" y="534.7" font-size="9.5" fill="#000" textLength="6.7" lengthAdjust="spacingAndGlyphs">-2</text>
<line x1="64.5" y1="534.5" x2="66.5" y2="534.5" stroke="#000" stroke-width="1"/>
<text x="321.93" y="346.7" font-size="14" fill="#000" textLength="13.71" lengthAdjust="spacingAndGlyphs"> 0</text>
<path d="M763 0L583 0L583 1100C540 1060 483 1020 413 980C343 940 280 912 223 892L223 1058C324 1103 412 1159 488 1224C564 1289 617 1350 649 1409L763 1409Z" transform="translate(321.93 346.7) scale(0.006020 -0.006836)" fill="#000" stroke="#000" stroke-width="43.886"/>
<text x="337.13" y="342.5" font-size="9.5" fill="#000" textLength="4.04" lengthAdjust="spacingAndGlyphs">0</text>
<text x="321.93" y="431.9" font-size="14" fill="#000" textLength="14.81" lengthAdjust="spacingAndGlyphs"> 0</text>
<path d="M763 0L583 0L583 1100C540 1060 483 1020 413 980C343 940 280 912 223 892L223 1058C324 1103 412 1159 488 1224C564 1289 617 1350 649 1409L763 1409Z" transform="translate(321.93 431.9) scale(0.006503 -0.006836)" fill="#000" stroke="#000" stroke-width="43.886"/>
<text x="337.08" y="427.7" font-size="9.5" fill="#000" textLength="6.19" lengthAdjust="spacingAndGlyphs">- </text>
<path d="M763 0L583 0L583 1100C540 1060 483 1020 413 980C343 940 280 912 223 892L223 1058C324 1103 412 1159 488 1224C564 1289 617 1350 649 1409L763 1409Z" transform="translate(339.39 427.7) scale(0.003397 -0.004639)" fill="#000" stroke="#000" stroke-width="64.674"/>
<text x="321.93" y="515.8" font-size="14" fill="#000" textLength="14.51" lengthAdjust="spacingAndGlyphs"> 0</text>
<path d="M763 0L583 0L583 1100C540 1060 483 1020 413 980C343 940 280 912 223 892L223 1058C324 1103 412 1159 488 1224C564 1289 617 1350 649 1409L763 1409Z" transform="translate(321.93 515.8) scale(0.006371 -0.006836)" fill="#000" stroke="#000" stroke-width="43.886"/>
<text x="337.28" y="510.9" font-size="9.5" fill="#000" textLength="6.9" lengthAdjust="spacingAndGlyphs">-2</text>
<text x="323.13" y="597.6" font-size="14" fill="#000" textLength="15.01" lengthAdjust="spacingAndGlyphs"> 0</text>
<path d="M763 0L583 0L583 1100C540 1060 483 1020 413 980C343 940 280 912 223 892L223 1058C324 1103 412 1159 488 1224C564 1289 617 1350 649 1409L763 1409Z" transform="translate(323.13 597.6) scale(0.006591 -0.006836)" fill="#000" stroke="#000" stroke-width="43.886"/>
<text x="338.68" y="593" font-size="9.5" fill="#000" textLength="6.44" lengthAdjust="spacingAndGlyphs">-3</text>
<text transform="translate(24.3 563) rotate(-90)" x="-0.61" y="0" font-size="17" fill="#000">Oscillator Strength (a.u.)</text>
<text transform="translate(358.3 426.7) rotate(90)" x="-1.19" y="0" font-size="17" fill="#000">FWHM (nm)</text>
<text x="79.3" y="609.6" font-size="14" text-anchor="middle" fill="#000">2</text>
<text x="136.7" y="609.6" font-size="14" text-anchor="middle" fill="#000">3</text>
<text x="175.8" y="609.6" font-size="14" text-anchor="middle" fill="#000">4</text>
<text x="208.5" y="609.6" font-size="14" text-anchor="middle" fill="#000">5</text>
<text x="234.6" y="609.6" font-size="14" text-anchor="middle" fill="#000">6</text>
<text x="257.2" y="609.6" font-size="14" text-anchor="middle" fill="#000">7</text>
<text x="275.5" y="609.6" font-size="14" text-anchor="middle" fill="#000">8</text>
<text x="292.3" y="609.6" font-size="14" text-anchor="middle" fill="#000">9</text>
<text x="307.1" y="609.6" font-size="14" text-anchor="middle" fill="#000"> 0</text>
<path d="M763 0L583 0L583 1100C540 1060 483 1020 413 980C343 940 280 912 223 892L223 1058C324 1103 412 1159 488 1224C564 1289 617 1350 649 1409L763 1409Z" transform="translate(299.31 609.6) scale(0.006836 -0.006836)" fill="#000" stroke="#000" stroke-width="43.886"/>
<text x="186.07" y="635.4" font-size="17" fill="#000" textLength="9.93" lengthAdjust="spacingAndGlyphs">n</text>
<line x1="78.7" y1="595.6" x2="78.7" y2="597.2" stroke="#000" stroke-width="0.9"/>
<line x1="135.6" y1="595.6" x2="135.6" y2="597.2" stroke="#000" stroke-width="0.9"/>
<line x1="176.7" y1="595.6" x2="176.7" y2="597.2" stroke="#000" stroke-width="0.9"/>
<line x1="208.7" y1="595.6" x2="208.7" y2="597.2" stroke="#000" stroke-width="0.9"/>
<line x1="234.4" y1="595.6" x2="234.4" y2="597.2" stroke="#000" stroke-width="0.9"/>
<line x1="256.3" y1="595.6" x2="256.3" y2="597.2" stroke="#000" stroke-width="0.9"/>
<line x1="274.9" y1="595.6" x2="274.9" y2="597.2" stroke="#000" stroke-width="0.9"/>
<line x1="291.7" y1="595.6" x2="291.7" y2="597.2" stroke="#000" stroke-width="0.9"/>
<line x1="306.7" y1="595.6" x2="306.7" y2="597.2" stroke="#000" stroke-width="0.9"/>
<line x1="316" y1="402.08" x2="317.6" y2="402.08" stroke="#000" stroke-width="0.8"/>
<line x1="316" y1="387.27" x2="317.6" y2="387.27" stroke="#000" stroke-width="0.8"/>
<line x1="316" y1="376.77" x2="317.6" y2="376.77" stroke="#000" stroke-width="0.8"/>
<line x1="316" y1="368.62" x2="317.6" y2="368.62" stroke="#000" stroke-width="0.8"/>
<line x1="316" y1="361.96" x2="317.6" y2="361.96" stroke="#000" stroke-width="0.8"/>
<line x1="316" y1="356.33" x2="317.6" y2="356.33" stroke="#000" stroke-width="0.8"/>
<line x1="316" y1="351.45" x2="317.6" y2="351.45" stroke="#000" stroke-width="0.8"/>
<line x1="316" y1="347.15" x2="317.6" y2="347.15" stroke="#000" stroke-width="0.8"/>
<line x1="316" y1="486.18" x2="317.6" y2="486.18" stroke="#000" stroke-width="0.8"/>
<line x1="316" y1="471.37" x2="317.6" y2="471.37" stroke="#000" stroke-width="0.8"/>
<line x1="316" y1="460.87" x2="317.6" y2="460.87" stroke="#000" stroke-width="0.8"/>
<line x1="316" y1="452.72" x2="317.6" y2="452.72" stroke="#000" stroke-width="0.8"/>
<line x1="316" y1="446.06" x2="317.6" y2="446.06" stroke="#000" stroke-width="0.8"/>
<line x1="316" y1="440.43" x2="317.6" y2="440.43" stroke="#000" stroke-width="0.8"/>
<line x1="316" y1="435.55" x2="317.6" y2="435.55" stroke="#000" stroke-width="0.8"/>
<line x1="316" y1="431.25" x2="317.6" y2="431.25" stroke="#000" stroke-width="0.8"/>
<line x1="316" y1="570.28" x2="317.6" y2="570.28" stroke="#000" stroke-width="0.8"/>
<line x1="316" y1="555.47" x2="317.6" y2="555.47" stroke="#000" stroke-width="0.8"/>
<line x1="316" y1="544.97" x2="317.6" y2="544.97" stroke="#000" stroke-width="0.8"/>
<line x1="316" y1="536.82" x2="317.6" y2="536.82" stroke="#000" stroke-width="0.8"/>
<line x1="316" y1="530.16" x2="317.6" y2="530.16" stroke="#000" stroke-width="0.8"/>
<line x1="316" y1="524.53" x2="317.6" y2="524.53" stroke="#000" stroke-width="0.8"/>
<line x1="316" y1="519.65" x2="317.6" y2="519.65" stroke="#000" stroke-width="0.8"/>
<line x1="316" y1="515.35" x2="317.6" y2="515.35" stroke="#000" stroke-width="0.8"/>
<svg x="66.5" y="343.3" width="251.1" height="252.3" viewBox="66.5 343.3 251.1 252.3" overflow="hidden">
<line x1="78" y1="354.2" x2="306.8" y2="519.6" stroke="#0000ff" stroke-width="2" stroke-dasharray="3.2 1.8"/>
<line x1="78" y1="348.1" x2="306.8" y2="523.6" stroke="#000" stroke-width="2" stroke-dasharray="3.2 1.8"/>
<circle cx="78" cy="374.7" r="3.4" fill="#ff1a1a" stroke="none" stroke-width="0"/>
<circle cx="135.6" cy="398.2" r="3.4" fill="#ff1a1a" stroke="none" stroke-width="0"/>
<circle cx="176.4" cy="422.7" r="3.4" fill="#ff1a1a" stroke="none" stroke-width="0"/>
<circle cx="208" cy="445.1" r="3.4" fill="#ff1a1a" stroke="none" stroke-width="0"/>
<circle cx="234" cy="466.8" r="3.4" fill="#ff1a1a" stroke="none" stroke-width="0"/>
<line x1="255.7" y1="490.8" x2="255.7" y2="495.8" stroke="#ff1a1a" stroke-width="1.3"/>
<line x1="253.4" y1="490.8" x2="258" y2="490.8" stroke="#ff1a1a" stroke-width="1.3"/>
<line x1="253.4" y1="495.8" x2="258" y2="495.8" stroke="#ff1a1a" stroke-width="1.3"/>
<circle cx="255.7" cy="493.3" r="3.4" fill="#ff1a1a" stroke="none" stroke-width="0"/>
<line x1="274.9" y1="511.4" x2="274.9" y2="521" stroke="#ff1a1a" stroke-width="1.3"/>
<line x1="272.6" y1="511.4" x2="277.2" y2="511.4" stroke="#ff1a1a" stroke-width="1.3"/>
<line x1="272.6" y1="521" x2="277.2" y2="521" stroke="#ff1a1a" stroke-width="1.3"/>
<circle cx="274.9" cy="516" r="3.4" fill="#ff1a1a" stroke="none" stroke-width="0"/>
<line x1="291.8" y1="535.1" x2="291.8" y2="555.7" stroke="#ff1a1a" stroke-width="1.3"/>
<line x1="289.5" y1="535.1" x2="294.1" y2="535.1" stroke="#ff1a1a" stroke-width="1.3"/>
<line x1="289.5" y1="555.7" x2="294.1" y2="555.7" stroke="#ff1a1a" stroke-width="1.3"/>
<circle cx="291.8" cy="544.2" r="3.4" fill="#ff1a1a" stroke="none" stroke-width="0"/>
<line x1="306.8" y1="554.3" x2="306.8" y2="584.5" stroke="#ff1a1a" stroke-width="1.3"/>
<line x1="304.5" y1="554.3" x2="309.1" y2="554.3" stroke="#ff1a1a" stroke-width="1.3"/>
<line x1="304.5" y1="584.5" x2="309.1" y2="584.5" stroke="#ff1a1a" stroke-width="1.3"/>
<circle cx="306.8" cy="566.4" r="3.4" fill="#ff1a1a" stroke="none" stroke-width="0"/>
<circle cx="78" cy="358.2" r="3.4" fill="#138a13" stroke="none" stroke-width="0"/>
<circle cx="135.6" cy="393.9" r="3.4" fill="#138a13" stroke="none" stroke-width="0"/>
<circle cx="176.4" cy="417.4" r="3.4" fill="#138a13" stroke="none" stroke-width="0"/>
<circle cx="208" cy="428" r="3.4" fill="#138a13" stroke="none" stroke-width="0"/>
<circle cx="234" cy="435.4" r="3.4" fill="#138a13" stroke="none" stroke-width="0"/>
<line x1="255.7" y1="444.8" x2="255.7" y2="448.4" stroke="#138a13" stroke-width="1.3"/>
<line x1="253.4" y1="444.8" x2="258" y2="444.8" stroke="#138a13" stroke-width="1.3"/>
<line x1="253.4" y1="448.4" x2="258" y2="448.4" stroke="#138a13" stroke-width="1.3"/>
<circle cx="255.7" cy="446.6" r="3.4" fill="#138a13" stroke="none" stroke-width="0"/>
<line x1="274.9" y1="456.7" x2="274.9" y2="465.5" stroke="#138a13" stroke-width="1.3"/>
<line x1="272.6" y1="456.7" x2="277.2" y2="456.7" stroke="#138a13" stroke-width="1.3"/>
<line x1="272.6" y1="465.5" x2="277.2" y2="465.5" stroke="#138a13" stroke-width="1.3"/>
<circle cx="274.9" cy="460.7" r="3.4" fill="#138a13" stroke="none" stroke-width="0"/>
<line x1="291.7" y1="477.2" x2="291.7" y2="496.2" stroke="#138a13" stroke-width="1.3"/>
<line x1="289.4" y1="477.2" x2="294" y2="477.2" stroke="#138a13" stroke-width="1.3"/>
<line x1="289.4" y1="496.2" x2="294" y2="496.2" stroke="#138a13" stroke-width="1.3"/>
<circle cx="291.7" cy="485.7" r="3.4" fill="#138a13" stroke="none" stroke-width="0"/>
<line x1="306.5" y1="501.2" x2="306.5" y2="526.8" stroke="#138a13" stroke-width="1.3"/>
<line x1="304.2" y1="501.2" x2="308.8" y2="501.2" stroke="#138a13" stroke-width="1.3"/>
<line x1="304.2" y1="526.8" x2="308.8" y2="526.8" stroke="#138a13" stroke-width="1.3"/>
<circle cx="306.5" cy="511.9" r="3.4" fill="#138a13" stroke="none" stroke-width="0"/>
</svg>
<rect x="66.5" y="343.6" width="251.1" height="252" fill="none" stroke="#000" stroke-width="1.35"/>
<rect x="162.3" y="347.3" width="150.2" height="58.7" fill="#fff" stroke="#444" stroke-width="1.2"/>
<line x1="166" y1="355" x2="178.1" y2="355" stroke="#3072bc" stroke-width="1.8" stroke-dasharray="2.4 0.9"/>
<line x1="166" y1="359.6" x2="178.1" y2="359.6" stroke="#000" stroke-width="1.8" stroke-dasharray="2.4 0.9"/>
<text x="181.69" y="361.6" font-size="15.2" fill="#000" textLength="10.4" lengthAdjust="spacingAndGlyphs">n</text>
<text x="192.4" y="356" font-size="9" fill="#000" textLength="6.8" lengthAdjust="spacingAndGlyphs">-3</text>
<line x1="174.8" y1="363.8" x2="174.8" y2="379.2" stroke="#e0403a" stroke-width="1.3"/>
<line x1="172.5" y1="363.8" x2="177.1" y2="363.8" stroke="#e0403a" stroke-width="1.3"/>
<line x1="172.5" y1="379.2" x2="177.1" y2="379.2" stroke="#e0403a" stroke-width="1.3"/>
<circle cx="174.8" cy="371.9" r="3.3" fill="#e0403a" stroke="none" stroke-width="0"/>
<text x="181.98" y="376.3" font-size="15.2" fill="#000" textLength="128.91" lengthAdjust="spacingAndGlyphs">Oscillator Strength</text>
<line x1="174.8" y1="384" x2="174.8" y2="399" stroke="#1aa060" stroke-width="1.3"/>
<line x1="172.5" y1="384" x2="177.1" y2="384" stroke="#1aa060" stroke-width="1.3"/>
<line x1="172.5" y1="399" x2="177.1" y2="399" stroke="#1aa060" stroke-width="1.3"/>
<circle cx="174.8" cy="391" r="3.3" fill="#1aa060" stroke="none" stroke-width="0"/>
<text x="180.75" y="395.7" font-size="15.2" fill="#000" textLength="48.99" lengthAdjust="spacingAndGlyphs">FWHM</text>
<text x="382.3" y="340" font-size="18" font-weight="bold" fill="#000">(d)</text>
<text x="429.05" y="395.7" font-size="14" text-anchor="end" fill="#000">20</text>
<line x1="432.3" y1="391.3" x2="434.3" y2="391.3" stroke="#000" stroke-width="1"/>
<line x1="697.2" y1="391.3" x2="699.2" y2="391.3" stroke="#000" stroke-width="1"/>
<text x="429.09" y="446.9" font-size="14" text-anchor="end" fill="#000"> 5</text>
<path d="M763 0L583 0L583 1100C540 1060 483 1020 413 980C343 940 280 912 223 892L223 1058C324 1103 412 1159 488 1224C564 1289 617 1350 649 1409L763 1409Z" transform="translate(413.52 446.9) scale(0.006836 -0.006836)" fill="#000" stroke="#000" stroke-width="43.886"/>
<line x1="432.3" y1="442.5" x2="434.3" y2="442.5" stroke="#000" stroke-width="1"/>
<line x1="697.2" y1="442.5" x2="699.2" y2="442.5" stroke="#000" stroke-width="1"/>
<text x="429.05" y="498.1" font-size="14" text-anchor="end" fill="#000"> 0</text>
<path d="M763 0L583 0L583 1100C540 1060 483 1020 413 980C343 940 280 912 223 892L223 1058C324 1103 412 1159 488 1224C564 1289 617 1350 649 1409L763 1409Z" transform="translate(413.47 498.1) scale(0.006836 -0.006836)" fill="#000" stroke="#000" stroke-width="43.886"/>
<line x1="432.3" y1="493.7" x2="434.3" y2="493.7" stroke="#000" stroke-width="1"/>
<line x1="697.2" y1="493.7" x2="699.2" y2="493.7" stroke="#000" stroke-width="1"/>
<text x="429.09" y="549.4" font-size="14" text-anchor="end" fill="#000">5</text>
<line x1="432.3" y1="545" x2="434.3" y2="545" stroke="#000" stroke-width="1"/>
<line x1="697.2" y1="545" x2="699.2" y2="545" stroke="#000" stroke-width="1"/>
<text x="702.65" y="396.1" font-size="14" fill="#000" textLength="26.75" lengthAdjust="spacingAndGlyphs">0. 2</text>
<path d="M763 0L583 0L583 1100C540 1060 483 1020 413 980C343 940 280 912 223 892L223 1058C324 1103 412 1159 488 1224C564 1289 617 1350 649 1409L763 1409Z" transform="translate(714.12 396.1) scale(0.006711 -0.006836)" fill="#000" stroke="#000" stroke-width="43.886"/>
<text x="702.65" y="447.1" font-size="14" fill="#000" textLength="26.71" lengthAdjust="spacingAndGlyphs">0.09</text>
<text x="702.65" y="498.1" font-size="14" fill="#000" textLength="26.66" lengthAdjust="spacingAndGlyphs">0.06</text>
<text x="702.65" y="549.4" font-size="14" fill="#000" textLength="26.66" lengthAdjust="spacingAndGlyphs">0.03</text>
<text transform="translate(399.3 521.9) rotate(-90)" x="-1.19" y="0" font-size="17" fill="#000">Energy (meV)</text>
<text transform="translate(738.8 415.4) rotate(90)" x="-0.61" y="0" font-size="17" fill="#000">Quantum Defect</text>
<text x="448.3" y="612" font-size="14" text-anchor="middle" fill="#000">2</text>
<line x1="445.9" y1="595.5" x2="445.9" y2="597.5" stroke="#000" stroke-width="1"/>
<text x="476.6" y="612" font-size="14" text-anchor="middle" fill="#000">3</text>
<line x1="475.8" y1="595.5" x2="475.8" y2="597.5" stroke="#000" stroke-width="1"/>
<text x="506.5" y="612" font-size="14" text-anchor="middle" fill="#000">4</text>
<line x1="505.7" y1="595.5" x2="505.7" y2="597.5" stroke="#000" stroke-width="1"/>
<text x="536.4" y="612" font-size="14" text-anchor="middle" fill="#000">5</text>
<line x1="535.6" y1="595.5" x2="535.6" y2="597.5" stroke="#000" stroke-width="1"/>
<text x="567.9" y="612" font-size="14" text-anchor="middle" fill="#000">6</text>
<line x1="565.5" y1="595.5" x2="565.5" y2="597.5" stroke="#000" stroke-width="1"/>
<text x="596.9" y="612" font-size="14" text-anchor="middle" fill="#000">7</text>
<line x1="595.4" y1="595.5" x2="595.4" y2="597.5" stroke="#000" stroke-width="1"/>
<text x="626.3" y="612" font-size="14" text-anchor="middle" fill="#000">8</text>
<line x1="625.3" y1="595.5" x2="625.3" y2="597.5" stroke="#000" stroke-width="1"/>
<text x="655.2" y="612" font-size="14" text-anchor="middle" fill="#000">9</text>
<line x1="655.2" y1="595.5" x2="655.2" y2="597.5" stroke="#000" stroke-width="1"/>
<text x="686.8" y="612" font-size="14" text-anchor="middle" fill="#000"> 0</text>
<path d="M763 0L583 0L583 1100C540 1060 483 1020 413 980C343 940 280 912 223 892L223 1058C324 1103 412 1159 488 1224C564 1289 617 1350 649 1409L763 1409Z" transform="translate(679.01 612) scale(0.006836 -0.006836)" fill="#000" stroke="#000" stroke-width="43.886"/>
<line x1="685.1" y1="595.5" x2="685.1" y2="597.5" stroke="#000" stroke-width="1"/>
<text x="563.77" y="634.2" font-size="17" fill="#000" textLength="10.23" lengthAdjust="spacingAndGlyphs">n</text>
<polyline points="445.9,350.9 447.1,360.44 448.3,369.44 449.51,377.93 450.71,385.95 451.91,393.54 453.11,400.72 454.31,407.52 455.52,413.97 456.72,420.1 457.92,425.92 459.12,431.46 460.32,436.73 461.53,441.75 462.73,446.54 463.93,451.1 465.13,455.46 466.33,459.62 467.54,463.61 468.74,467.42 469.94,471.06 471.14,474.55 472.34,477.9 473.55,481.11 474.75,484.19 475.95,487.15 477.15,489.99 478.35,492.73 479.56,495.35 480.76,497.88 481.96,500.31 483.16,502.66 484.36,504.91 485.57,507.09 486.77,509.19 487.97,511.21 489.17,513.17 490.37,515.05 491.58,516.88 492.78,518.64 493.98,520.34 495.18,521.99 496.38,523.58 497.59,525.13 498.79,526.62 499.99,528.07 501.19,529.47 502.39,530.82 503.6,532.14 504.8,533.42 506,534.66 507.2,535.86 508.4,537.02 509.61,538.16 510.81,539.26 512.01,540.33 513.21,541.36 514.41,542.37 515.62,543.36 516.82,544.31 518.02,545.24 519.22,546.14 520.42,547.02 521.63,547.88 522.83,548.71 524.03,549.52 525.23,550.31 526.43,551.09 527.64,551.84 528.84,552.57 530.04,553.28 531.24,553.98 532.44,554.66 533.65,555.32 534.85,555.97 536.05,556.6 537.25,557.22 538.45,557.82 539.66,558.4 540.86,558.98 542.06,559.54 543.26,560.09 544.46,560.62 545.67,561.15 546.87,561.66 548.07,562.16 549.27,562.65 550.47,563.13 551.68,563.59 552.88,564.05 554.08,564.5 555.28,564.94 556.48,565.37 557.69,565.79 558.89,566.2 560.09,566.61 561.29,567 562.49,567.39 563.7,567.77 564.9,568.14 566.1,568.5 567.3,568.86 568.51,569.21 569.71,569.55 570.91,569.89 572.11,570.22 573.31,570.54 574.52,570.86 575.72,571.17 576.92,571.48 578.12,571.78 579.32,572.07 580.53,572.36 581.73,572.64 582.93,572.92 584.13,573.2 585.33,573.46 586.54,573.73 587.74,573.99 588.94,574.24 590.14,574.49 591.34,574.74 592.55,574.98 593.75,575.21 594.95,575.45 596.15,575.68 597.35,575.9 598.56,576.12 599.76,576.34 600.96,576.55 602.16,576.76 603.36,576.97 604.57,577.17 605.77,577.37 606.97,577.57 608.17,577.76 609.37,577.95 610.58,578.14 611.78,578.33 612.98,578.51 614.18,578.69 615.38,578.86 616.59,579.03 617.79,579.21 618.99,579.37 620.19,579.54 621.39,579.7 622.6,579.86 623.8,580.02 625,580.17 626.2,580.33 627.4,580.48 628.61,580.63 629.81,580.77 631.01,580.92 632.21,581.06 633.41,581.2 634.62,581.34 635.82,581.47 637.02,581.61 638.22,581.74 639.42,581.87 640.63,582 641.83,582.12 643.03,582.25 644.23,582.37 645.43,582.49 646.64,582.61 647.84,582.73 649.04,582.85 650.24,582.96 651.44,583.08 652.65,583.19 653.85,583.3 655.05,583.41 656.25,583.51 657.45,583.62 658.66,583.73 659.86,583.83 661.06,583.93 662.26,584.03 663.46,584.13 664.67,584.23 665.87,584.32 667.07,584.42 668.27,584.51 669.47,584.61 670.68,584.7 671.88,584.79 673.08,584.88 674.28,584.97 675.48,585.05 676.69,585.14 677.89,585.23 679.09,585.31 680.29,585.39 681.49,585.48 682.7,585.56 683.9,585.64 685.1,585.72" fill="none" stroke="#0000ff" stroke-width="2.1" stroke-linejoin="round" stroke-dasharray="3.3 2.1"/>
<circle cx="445.9" cy="350.9" r="3.2" fill="#fff" stroke="#ff2020" stroke-width="1.2"/>
<circle cx="475.8" cy="486.79" r="3.2" fill="#fff" stroke="#ff2020" stroke-width="1.2"/>
<circle cx="505.7" cy="534.35" r="3.2" fill="#fff" stroke="#ff2020" stroke-width="1.2"/>
<circle cx="535.6" cy="556.36" r="3.2" fill="#fff" stroke="#ff2020" stroke-width="1.2"/>
<circle cx="565.5" cy="568.32" r="3.2" fill="#fff" stroke="#ff2020" stroke-width="1.2"/>
<circle cx="595.4" cy="575.53" r="3.2" fill="#fff" stroke="#ff2020" stroke-width="1.2"/>
<circle cx="625.3" cy="580.21" r="3.2" fill="#fff" stroke="#ff2020" stroke-width="1.2"/>
<circle cx="655.2" cy="583.42" r="3.2" fill="#fff" stroke="#ff2020" stroke-width="1.2"/>
<circle cx="685.1" cy="585.72" r="3.2" fill="#fff" stroke="#ff2020" stroke-width="1.2"/>
<line x1="445.8" y1="571.3" x2="445.8" y2="583.3" stroke="#000" stroke-width="1.3"/>
<line x1="443.3" y1="571.3" x2="448.3" y2="571.3" stroke="#000" stroke-width="1.3"/>
<line x1="443.3" y1="583.3" x2="448.3" y2="583.3" stroke="#000" stroke-width="1.3"/>
<circle cx="445.8" cy="577" r="3.4" fill="#000" stroke="none" stroke-width="0"/>
<line x1="475.8" y1="513.3" x2="475.8" y2="526.7" stroke="#000" stroke-width="1.3"/>
<line x1="473.3" y1="513.3" x2="478.3" y2="513.3" stroke="#000" stroke-width="1.3"/>
<line x1="473.3" y1="526.7" x2="478.3" y2="526.7" stroke="#000" stroke-width="1.3"/>
<circle cx="475.8" cy="520" r="3.4" fill="#000" stroke="none" stroke-width="0"/>
<line x1="505.8" y1="503.3" x2="505.8" y2="521.7" stroke="#000" stroke-width="1.3"/>
<line x1="503.3" y1="503.3" x2="508.3" y2="503.3" stroke="#000" stroke-width="1.3"/>
<line x1="503.3" y1="521.7" x2="508.3" y2="521.7" stroke="#000" stroke-width="1.3"/>
<circle cx="505.8" cy="512.5" r="3.4" fill="#000" stroke="none" stroke-width="0"/>
<line x1="535.6" y1="450.9" x2="535.6" y2="465.3" stroke="#000" stroke-width="1.3"/>
<line x1="533.1" y1="450.9" x2="538.1" y2="450.9" stroke="#000" stroke-width="1.3"/>
<line x1="533.1" y1="465.3" x2="538.1" y2="465.3" stroke="#000" stroke-width="1.3"/>
<circle cx="535.6" cy="458.1" r="3.4" fill="#000" stroke="none" stroke-width="0"/>
<line x1="565.6" y1="428.3" x2="565.6" y2="443.7" stroke="#000" stroke-width="1.3"/>
<line x1="563.1" y1="428.3" x2="568.1" y2="428.3" stroke="#000" stroke-width="1.3"/>
<line x1="563.1" y1="443.7" x2="568.1" y2="443.7" stroke="#000" stroke-width="1.3"/>
<circle cx="565.6" cy="436" r="3.4" fill="#000" stroke="none" stroke-width="0"/>
<line x1="595.6" y1="427.6" x2="595.6" y2="443.7" stroke="#000" stroke-width="1.3"/>
<line x1="593.1" y1="427.6" x2="598.1" y2="427.6" stroke="#000" stroke-width="1.3"/>
<line x1="593.1" y1="443.7" x2="598.1" y2="443.7" stroke="#000" stroke-width="1.3"/>
<circle cx="595.6" cy="435.5" r="3.4" fill="#000" stroke="none" stroke-width="0"/>
<line x1="625.1" y1="415.6" x2="625.1" y2="438.4" stroke="#000" stroke-width="1.3"/>
<line x1="622.6" y1="415.6" x2="627.6" y2="415.6" stroke="#000" stroke-width="1.3"/>
<line x1="622.6" y1="438.4" x2="627.6" y2="438.4" stroke="#000" stroke-width="1.3"/>
<circle cx="625.1" cy="427.1" r="3.4" fill="#000" stroke="none" stroke-width="0"/>
<line x1="655.1" y1="430.5" x2="655.1" y2="449.4" stroke="#000" stroke-width="1.3"/>
<line x1="652.6" y1="430.5" x2="657.6" y2="430.5" stroke="#000" stroke-width="1.3"/>
<line x1="652.6" y1="449.4" x2="657.6" y2="449.4" stroke="#000" stroke-width="1.3"/>
<circle cx="655.1" cy="440.1" r="3.4" fill="#000" stroke="none" stroke-width="0"/>
<line x1="684.9" y1="437.4" x2="684.9" y2="454.2" stroke="#000" stroke-width="1.3"/>
<line x1="682.4" y1="437.4" x2="687.4" y2="437.4" stroke="#000" stroke-width="1.3"/>
<line x1="682.4" y1="454.2" x2="687.4" y2="454.2" stroke="#000" stroke-width="1.3"/>
<circle cx="684.9" cy="445.6" r="3.4" fill="#000" stroke="none" stroke-width="0"/>
<rect x="434.4" y="340.8" width="262.9" height="254.9" fill="none" stroke="#000" stroke-width="1.35"/>
<rect x="465.3" y="346.5" width="149.7" height="61.7" fill="#fff" stroke="#222" stroke-width="1.2"/>
<circle cx="481.3" cy="357.1" r="2.95" fill="#fff" stroke="#e03030" stroke-width="1.2"/>
<text x="492.96" y="363.6" font-size="16.3" fill="#000" textLength="10.04" lengthAdjust="spacingAndGlyphs">E</text>
<text x="503.56" y="368.6" font-size="8" fill="#000" textLength="6.05" lengthAdjust="spacingAndGlyphs">g</text>
<text x="511.82" y="363.9" font-size="15.2" fill="#000" textLength="5.15" lengthAdjust="spacingAndGlyphs">-</text>
<text x="520.86" y="363.6" font-size="16.3" fill="#000" textLength="9.94" lengthAdjust="spacingAndGlyphs">E</text>
<text x="531.24" y="368.7" font-size="8.5" fill="#000" textLength="5.22" lengthAdjust="spacingAndGlyphs">n</text>
<line x1="473.2" y1="378" x2="492" y2="378" stroke="#3072bc" stroke-width="1.8" stroke-dasharray="3.2 1.8"/>
<text x="495.89" y="382.7" font-size="15.2" fill="#000" textLength="8.6" lengthAdjust="spacingAndGlyphs">n</text>
<text x="504.68" y="378.2" font-size="9.5" fill="#000">-2</text>
<line x1="481.3" y1="388" x2="481.3" y2="402.3" stroke="#000" stroke-width="1.3"/>
<line x1="478.8" y1="388" x2="483.8" y2="388" stroke="#000" stroke-width="1.3"/>
<line x1="478.8" y1="402.3" x2="483.8" y2="402.3" stroke="#000" stroke-width="1.3"/>
<circle cx="481.3" cy="395" r="3.3" fill="#000" stroke="none" stroke-width="0"/>
<text x="494.68" y="400.2" font-size="15.2" fill="#000" textLength="114.13" lengthAdjust="spacingAndGlyphs">Quantum Defect</text>
</svg>
</body></html>
